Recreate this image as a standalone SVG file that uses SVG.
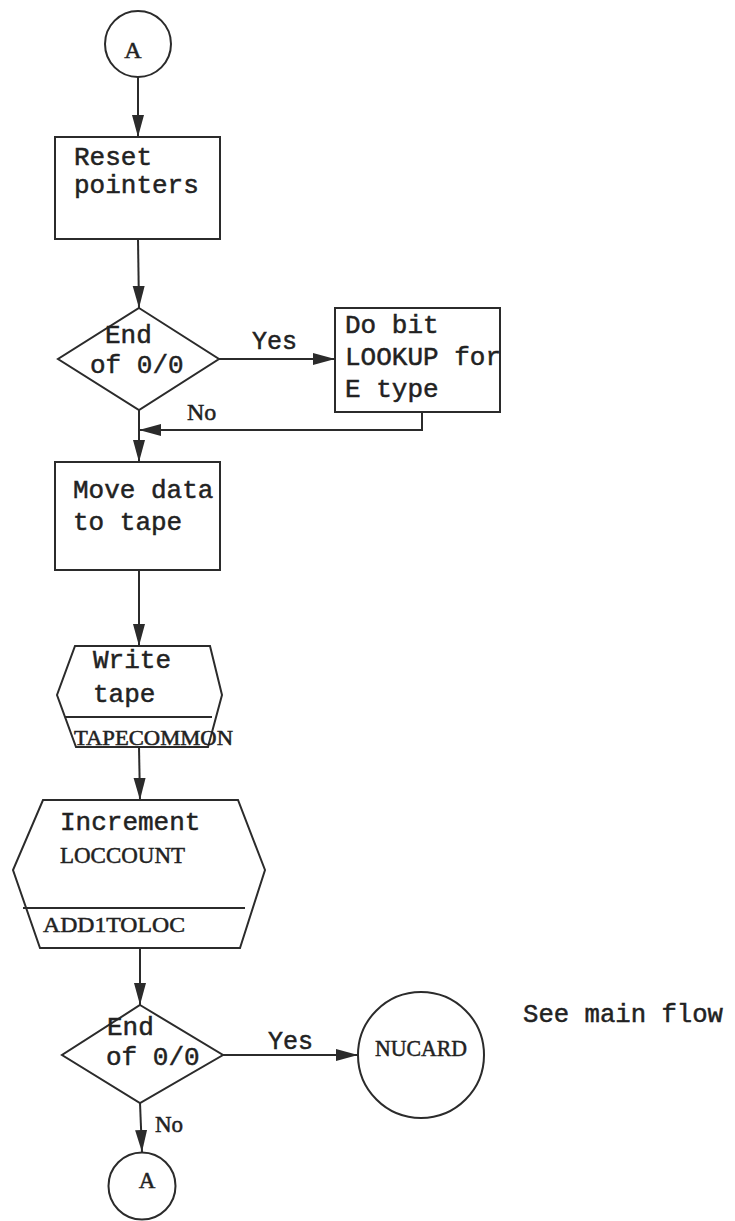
<svg xmlns="http://www.w3.org/2000/svg" width="735" height="1221" viewBox="0 0 735 1221">
<defs>
<style>
.shape{fill:none;stroke:#2b2b2b;stroke-width:2}
.line{fill:none;stroke:#2b2b2b;stroke-width:2}
.tw{font-family:"Liberation Mono","DejaVu Sans Mono",monospace;font-size:26px;fill:#222;stroke:#222;stroke-width:0.5}
.sf{font-family:"Liberation Serif","DejaVu Serif",serif;font-size:22px;fill:#222;stroke:#222;stroke-width:0.5}
</style>
<marker id="arr" viewBox="0 0 22 14" refX="22" refY="7" markerWidth="22" markerHeight="14" markerUnits="userSpaceOnUse" orient="auto">
<path d="M0,1 L22,7 L0,13 z" fill="#2b2b2b"/>
</marker>
</defs>
<rect width="735" height="1221" fill="#ffffff"/>

<g id="connectors">
<line class="line" x1="138" y1="77" x2="138" y2="137" marker-end="url(#arr)"/>
<line class="line" x1="138" y1="239" x2="139" y2="308" marker-end="url(#arr)"/>
<line class="line" x1="219" y1="359" x2="335" y2="359" marker-end="url(#arr)"/>
<polyline class="line" points="422,412 422,430 139,430" marker-end="url(#arr)"/>
<line class="line" x1="139" y1="410" x2="139" y2="462" marker-end="url(#arr)"/>
<line class="line" x1="139" y1="570" x2="139" y2="646" marker-end="url(#arr)"/>
<line class="line" x1="139" y1="747" x2="140" y2="800" marker-end="url(#arr)"/>
<line class="line" x1="140" y1="948" x2="140" y2="1005" marker-end="url(#arr)"/>
<line class="line" x1="223" y1="1055" x2="358" y2="1055" marker-end="url(#arr)"/>
<line class="line" x1="140" y1="1103" x2="142" y2="1152" marker-end="url(#arr)"/>
<text class="tw" x="252" y="349" style="font-size:25px">Yes</text>
<text class="sf" x="187" y="420" style="font-size:24px">No</text>
<text class="tw" x="268" y="1049" style="font-size:25px">Yes</text>
<text class="sf" x="155" y="1132" style="font-size:23px">No</text>
</g>

<g id="connector-A-top">
<circle class="shape" cx="138" cy="44" r="33"/>
<text class="sf" x="133" y="58" text-anchor="middle" style="font-size:24px">A</text>
</g>

<g id="reset-pointers">
<rect class="shape" x="55" y="137" width="165" height="102"/>
<text class="tw" x="74" y="165">Reset</text>
<text class="tw" x="74" y="193">pointers</text>
</g>

<g id="decision-1">
<polygon class="shape" points="139,308 219,359 139,410 58,359"/>
<text class="tw" x="105" y="343">End</text>
<text class="tw" x="90" y="373">of 0/0</text>
</g>

<g id="bit-lookup">
<rect class="shape" x="335" y="308" width="165" height="104"/>
<text class="tw" x="345" y="333">Do bit</text>
<text class="tw" x="345" y="365">LOOKUP for</text>
<text class="tw" x="345" y="397">E type</text>
</g>

<g id="move-data">
<rect class="shape" x="55" y="462" width="165" height="108"/>
<text class="tw" x="73" y="498">Move data</text>
<text class="tw" x="73" y="530">to tape</text>
</g>

<g id="write-tape">
<polygon class="shape" points="75,646 210,646 222,695 208,747 76,747 57,695"/>
<line class="line" x1="65" y1="717" x2="212" y2="717"/>
<text class="tw" x="93" y="668">Write</text>
<text class="tw" x="93" y="702">tape</text>
<text class="sf" x="74" y="745" style="font-size:21px" textLength="159" lengthAdjust="spacingAndGlyphs">TAPECOMMON</text>
</g>

<g id="increment-loccount">
<polygon class="shape" points="43,800 238,800 265,870 240,948 40,948 13,870"/>
<line class="line" x1="23" y1="908" x2="245" y2="908"/>
<text class="tw" x="60" y="830">Increment</text>
<text class="sf" x="60" y="863" style="font-size:23px" textLength="125" lengthAdjust="spacingAndGlyphs">LOCCOUNT</text>
<text class="sf" x="43" y="932" style="font-size:22px" textLength="142" lengthAdjust="spacingAndGlyphs">ADD1TOLOC</text>
</g>

<g id="decision-2">
<polygon class="shape" points="140,1005 223,1055 140,1103 62,1055"/>
<text class="tw" x="107" y="1035">End</text>
<text class="tw" x="106" y="1065">of 0/0</text>
</g>

<g id="nucard">
<circle class="shape" cx="421" cy="1055" r="63"/>
<text class="sf" x="375" y="1056" style="font-size:24px" textLength="92" lengthAdjust="spacingAndGlyphs">NUCARD</text>
</g>

<g id="note">
<text class="tw" x="523" y="1022" textLength="200" lengthAdjust="spacingAndGlyphs">See main flow</text>
</g>

<g id="connector-A-bottom">
<circle class="shape" cx="142" cy="1186" r="33.5"/>
<text class="sf" x="147" y="1188" text-anchor="middle" style="font-size:23px">A</text>
</g>
</svg>
